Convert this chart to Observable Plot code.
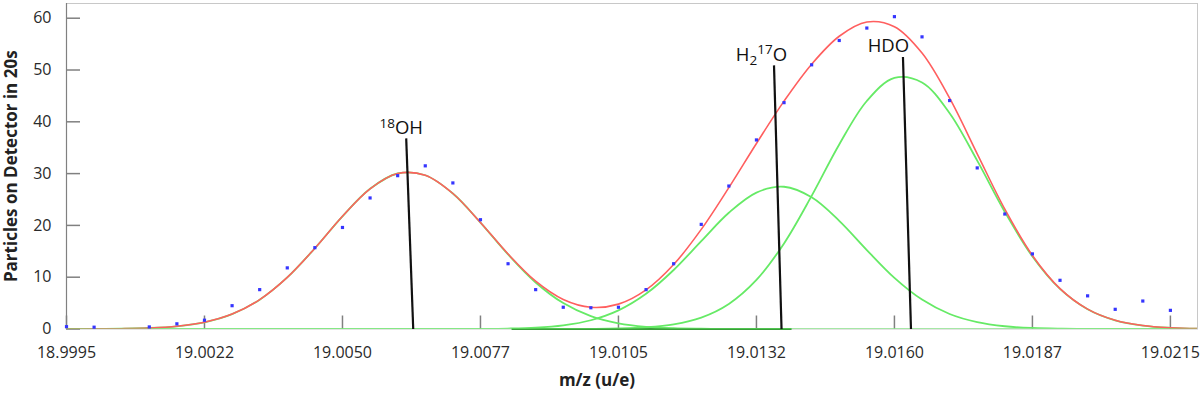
<!DOCTYPE html>
<html>
<head>
<meta charset="utf-8">
<script src="https://cdn.jsdelivr.net/npm/d3@7"></script>
<script src="https://cdn.jsdelivr.net/npm/@observablehq/plot@0.6"></script>
<style>
  html, body { margin: 0; padding: 0; background: #fff; }
  #chart svg { display: block; }
</style>
</head>
<body>
<div id="chart"></div>
<script>
// ---- Data ----
const xTicks = [18.9995, 19.00225, 19.005, 19.00775, 19.0105, 19.01325, 19.016, 19.01875, 19.0215];
const xTickLabels = ["18.9995", "19.0022", "19.0050", "19.0077", "19.0105", "19.0132", "19.0160", "19.0187", "19.0215"];
const yTicks = [0, 10, 20, 30, 40, 50, 60];

// measured counts (blue points)
const dotMz = [18.9995, 19.00005, 19.0006, 19.00115, 19.0017, 19.00225, 19.0028, 19.00335, 19.0039, 19.00445,
  19.005, 19.00555, 19.0061, 19.00665, 19.0072, 19.00775, 19.0083, 19.00885, 19.0094, 19.00995,
  19.0105, 19.01105, 19.0116, 19.01215, 19.0127, 19.01325, 19.0138, 19.01435, 19.0149, 19.01545,
  19.016, 19.01655, 19.0171, 19.01765, 19.0182, 19.01875, 19.0193, 19.01985, 19.0204, 19.02095, 19.0215];
const dotCounts = [0.45, 0.35, null, 0.4, 1.0, 1.7, 4.5, 7.6, 11.8, 15.7,
  19.6, 25.3, 29.6, 31.5, 28.2, 21.1, 12.6, 7.6, 4.2, 4.1,
  4.2, 7.6, 12.6, 20.2, 27.6, 36.5, 43.7, 51.0, 55.7, 58.1,
  60.3, 56.4, 44.1, 31.1, 22.2, 14.5, 9.4, 6.4, 3.8, 5.4, 3.6];

// fitted curves, read at these m/z positions
const sampleMz = [18.9995, 19.00005, 19.0006, 19.00115, 19.0017, 19.00225, 19.0028, 19.00335, 19.0039, 19.00445,
  19.005, 19.00555, 19.0061, 19.00665, 19.0072, 19.00775, 19.0083, 19.00885, 19.0094, 19.00995,
  19.0105, 19.01105, 19.0116, 19.01215, 19.0127, 19.01325, 19.0138, 19.01435, 19.0149, 19.01545,
  19.016, 19.01655, 19.0171, 19.01765, 19.0182, 19.01875, 19.0193, 19.01985, 19.0204, 19.02095, 19.0215, 19.02205];
const fitTotal = [0.004, 0.017, 0.061, 0.189, 0.525, 1.30, 2.88, 5.67, 9.96, 15.59,
  21.76, 27.07, 30.02, 29.68, 26.16, 20.57, 14.48, 9.24, 5.71, 4.20,
  4.80, 7.55, 12.44, 19.23, 27.30, 35.82, 43.99, 51.12, 56.52, 59.27,
  58.36, 53.27, 44.56, 33.82, 23.13, 14.20, 7.80, 3.84, 1.68, 0.66, 0.23, 0.07];
const fitOH18 = [0.004, 0.017, 0.061, 0.189, 0.525, 1.30, 2.88, 5.67, 9.96, 15.59,
  21.76, 27.07, 30.02, 29.68, 26.15, 20.54, 14.39, 8.98, 5.00, 2.48,
  1.10, 0.43, 0.15, 0.05, 0.01, 0, 0, 0, 0, 0,
  0, 0, 0, 0, 0, 0, 0, 0, 0, 0, 0, 0];
const fitH2O17 = [0, 0, 0, 0, 0, 0, 0, 0, 0, 0,
  0, 0, 0, 0, 0.007, 0.025, 0.086, 0.26, 0.71, 1.69,
  3.59, 6.79, 11.39, 16.97, 22.44, 26.34, 27.46, 25.42, 20.89, 15.25,
  9.88, 5.68, 2.90, 1.32, 0.53, 0.19, 0.06, 0.02, 0, 0, 0, 0];
const fitHDO = [0, 0, 0, 0, 0, 0, 0, 0, 0, 0,
  0, 0, 0, 0, 0, 0, 0, 0, 0.008, 0.03,
  0.105, 0.33, 0.90, 2.21, 4.85, 9.48, 16.53, 25.70, 35.63, 44.02,
  48.48, 47.59, 41.66, 32.50, 22.60, 14.01, 7.74, 3.82, 1.68, 0.66, 0.23, 0.07];

// peak annotations
const labelNames = ["18OH", "H217O", "HDO"];
const labelTextMz = [19.00617, 19.01335, 19.01588];
const labelTextY = [37.6, 51.8, 53.4];
const lineTopMz = [19.00627, 19.01360, 19.01617];
const lineTopY = [36.8, 50.9, 52.5];
const lineBaseMz = [19.00641, 19.01375, 19.01633];
const darkBaseMz = [19.00838, 19.01396];

const yTitle = "Particles on Detector in 20s";
const xTitle = "m/z (u/e)";

// ---- Chart ----
const W = 1200, H = 394;
const mL = 66, mR = 3, mT = 3, mB = 65.5;
const frameW = W - mL - mR, frameH = H - mT - mB;
const red = "#ff5f5f", green = "#66ea66", blue = "#3535ff";

const svg = Plot.plot({
  width: W, height: H,
  marginLeft: mL, marginRight: mR, marginTop: mT, marginBottom: mB,
  x: {domain: [18.9995, 19.02204]},
  y: {domain: [0, 62.84]},
  style: {fontFamily: "'Open Sans', sans-serif", background: "white", color: "#2a2a2a"},
  marks: [
    Plot.frame({stroke: "#c8c8c8"}),
    Plot.tickX(xTicks, {x: d => d, stroke: "#808080", strokeWidth: 1.5, insetTop: frameH - 13}),
    Plot.tickY(yTicks, {y: d => d, stroke: "#808080", strokeWidth: 1.5, insetRight: frameW - 14}),
    Plot.ruleX([xTicks[0]], {stroke: "#808080", strokeWidth: 1.2}),
    Plot.axisX({ticks: xTicks, tickSize: 0, tickPadding: 18, fontSize: 16, label: null,
      tickFormat: d => xTickLabels[xTicks.indexOf(d)]}),
    Plot.axisY({ticks: yTicks, tickSize: 0, tickPadding: 15, fontSize: 16, label: null}),
    Plot.ruleY([0], {x1: darkBaseMz[0], x2: darkBaseMz[1], stroke: "#3a9e3a", strokeWidth: 2}),
    Plot.line(fitOH18, {x: sampleMz, y: fitOH18, stroke: green, strokeWidth: 1.8, curve: "catmull-rom", clip: true}),
    Plot.line(fitH2O17, {x: sampleMz, y: fitH2O17, stroke: green, strokeWidth: 1.8, curve: "catmull-rom", clip: true}),
    Plot.line(fitHDO, {x: sampleMz, y: fitHDO, stroke: green, strokeWidth: 1.8, curve: "catmull-rom", clip: true}),
    Plot.line(fitTotal, {x: sampleMz, y: fitTotal, stroke: red, strokeWidth: 1.6, curve: "catmull-rom", clip: true}),
    Plot.dot(dotCounts, {x: dotMz, y: dotCounts, symbol: "square", r: 1.8, fill: blue, stroke: null}),
    Plot.link(labelNames, {x1: lineTopMz, y1: lineTopY, x2: lineBaseMz, y2: labelNames.map(() => 0),
      stroke: "#111", strokeWidth: 2.2}),
    Plot.text(labelNames, {x: labelTextMz, y: labelTextY, text: d => d, fontSize: 18.5,
      textAnchor: "middle", lineAnchor: "bottom", fill: "#111"}),
    Plot.text([yTitle], {frameAnchor: "left", rotate: -90, dx: -55, text: d => d,
      fontSize: 17, fontWeight: "bold", fill: "#222", textAnchor: "middle", lineAnchor: "middle"}),
    Plot.text([xTitle], {frameAnchor: "bottom", dx: -35, dy: 57, text: d => d,
      fontSize: 17, fontWeight: "bold", fill: "#222", textAnchor: "middle", lineAnchor: "bottom"})
  ]
});

// rich text (superscripts / subscripts) for the peak labels
const richParts = {
  "18OH": [["18", "sup"], ["OH", ""]],
  "H217O": [["H", ""], ["2", "sub"], ["17", "sup"], ["O", ""]],
  "HDO": [["HDO", ""]]
};
d3.select(svg).selectAll("text").each(function () {
  if (this.querySelector("tspan")) return;
  const parts = richParts[this.textContent];
  if (!parts) return;
  const sel = d3.select(this);
  sel.text("");
  let cur = 0;
  for (const [s, kind] of parts) {
    const target = kind === "sup" ? -6.5 : kind === "sub" ? 4.5 : 0;
    const t = sel.append("tspan").attr("dy", target - cur).text(s);
    if (kind) t.attr("font-size", 13.5);
    cur = target;
  }
});

document.getElementById("chart").appendChild(svg);
</script>
</body>
</html>
